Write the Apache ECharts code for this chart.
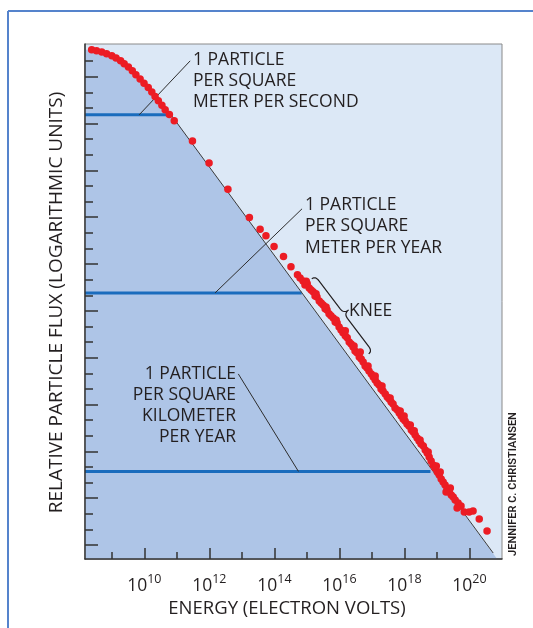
<!DOCTYPE html>
<html><head><meta charset="utf-8">
<script src="https://cdn.jsdelivr.net/npm/echarts@6/dist/echarts.min.js"></script>
<style>html,body{margin:0;padding:0;background:#fff;}#c{width:533px;height:628px;}</style>
</head><body><div id="c"></div>
<script>
// ---- axis ranges / ticks (x: log10 energy in eV, y: relative log flux units)
const energyMin = 8.175, energyMax = 21;
const fluxMin = -0.9, fluxMax = 32.1;
const xTickMajor = [10, 12, 14, 16, 18, 20];
const xTickMinor = [9, 11, 13, 15, 17, 19];
const yTickMajor = [0, 3, 6, 9, 12, 15, 18, 21, 24, 27, 30];
const yTickMinor = [1, 2, 4, 5, 7, 8, 10, 11, 13, 14, 16, 17, 19, 20, 22, 23, 25, 26, 28, 29, 31];

// ---- measured spectrum points [log10 E, log flux]
const lowEnergyDots = [
  [8.38,31.73],[8.53,31.66],[8.69,31.58],[8.84,31.47],[9.00,31.34],[9.13,31.20],[9.27,31.02],
  [9.38,30.83],[9.51,30.62],[9.63,30.38],[9.74,30.13],[9.87,29.85],[9.99,29.59],[10.12,29.31],
  [10.23,29.02],[10.33,28.73],[10.43,28.46],[10.54,28.18],[10.64,27.88],[10.77,27.59],[10.92,27.18],
  [11.48,25.88],[11.99,24.47],[12.57,22.80],[13.23,20.98],[13.56,20.23],[13.74,19.82],[13.99,19.12],
  [14.28,18.48],[14.51,17.82],[14.71,17.31]
];
const kneeDots = [
  [14.79,17.11],[14.88,16.92],[14.94,16.66],[15.01,16.73],[15.07,16.47],[15.13,16.34],[15.19,16.22],
  [15.25,15.96],[15.31,15.89],[15.38,15.64],[15.44,15.51],[15.50,15.38],[15.56,15.13],[15.62,15.06],
  [15.68,14.81],[15.74,14.68],[15.81,14.55],[15.87,14.29],[15.93,14.23],[15.99,13.97],[16.05,13.78],
  [16.11,13.59],[16.18,13.40],[16.24,13.27],[16.30,13.01],[16.36,12.88],[16.42,12.69],[16.48,12.43],
  [16.54,12.31],[16.61,12.05],[16.67,11.92],[16.73,11.73],[16.79,11.47],[16.85,11.34],[16.91,11.15],
  [16.98,10.96],[17.04,10.77],[17.10,10.57],[17.16,10.38],[17.22,10.25],[17.28,10.00],[17.34,9.87],
  [17.41,9.68],[17.47,9.48],[17.53,9.36],[17.59,9.16],[17.65,9.04],[17.71,8.78],[17.78,8.65],
  [17.84,8.46],[17.90,8.27],[17.96,8.07],[18.02,7.95],[18.08,7.75],[18.14,7.63],[18.21,7.37],
  [18.27,7.24],[18.33,7.05],[18.39,6.86],[18.45,6.66],[18.51,6.47],[18.58,6.34],[18.64,6.09],
  [18.70,5.89],[18.76,5.64],[18.82,5.38],[18.88,5.13],[18.94,4.93],[19.01,4.68],[19.07,4.48],
  [19.13,4.23],[19.19,4.04],[19.25,3.84],[19.31,3.59],[19.38,3.39],[19.44,3.20],[19.50,3.07],[19.56,2.88],
  [16.18,13.72],[16.64,12.37],[17.10,10.83],[17.56,9.42],[17.87,8.59],[18.18,7.69],[18.48,6.73],
  [19.10,4.68],[19.41,3.65],[19.28,3.39],
  [14.98,16.89],[15.28,16.09],[15.59,15.25],[15.90,14.42],[16.45,12.75],[16.88,11.47],[17.31,10.19],
  [17.99,8.27],[18.30,7.31],[18.73,5.96],[18.98,5.06]
];
const ankleDots = [
  [19.65,2.69],[19.74,2.50],[19.62,2.37],[19.84,2.11],[19.99,2.11],[20.11,2.18],[20.30,1.66],[20.54,0.89]
];

// ---- reference power law and rate levels
const powerLawLine = [[10.73,27.82],[20.73,-0.52]];
const shadedEdgeEnd = [20.85,-0.9];
const rateLevels = [27.56, 16.15, 4.71];
const rateLevelEnds = [10.78, 14.84, 18.8];
const leaderSecond = [[11.41,31.02],[9.84,27.56]];
const leaderYear = [[14.85,21.54],[12.175,16.15]];
const leaderKm = [[12.89,10.96],[14.74,4.71]];
const kneeStart = [15.26,17.23];
const kneeEnd = [17.01,12.42];

const TXT = '#231f20';
const FONT = '"Open Sans", "Noto Sans", sans-serif';

const shadedBoundary = [[energyMin, lowEnergyDots[0][1]]]
  .concat(lowEnergyDots.slice(0, 19))
  .concat([powerLawLine[0], shadedEdgeEnd]);

function lineSeries(data, color, width, z) {
  return { type: 'line', data: data, symbol: 'none', silent: true, z: z,
    lineStyle: { color: color, width: width }, animation: false };
}

const series = [
  { type: 'line', data: shadedBoundary, symbol: 'none', silent: true, z: 1,
    lineStyle: { width: 0 }, areaStyle: { color: '#aec5e7', opacity: 1, origin: 'start' } },
  ...rateLevels.map((lv, i) => lineSeries([[energyMin, lv], [rateLevelEnds[i], lv]], '#1a6cbd', 3, 2)),
  lineSeries(powerLawLine, '#3b3b3b', 1, 3),
  lineSeries(leaderSecond, '#2d2d2d', 1, 3),
  lineSeries(leaderYear, '#2d2d2d', 1, 3),
  lineSeries(leaderKm, '#2d2d2d', 1, 3),
  { type: 'scatter', data: lowEnergyDots.concat(kneeDots, ankleDots), symbolSize: 7.5, z: 4,
    itemStyle: { color: '#ec1c24', opacity: 1 }, silent: true }
];

const axisCol = '#333';
const option = {
  animation: false,
  grid: { left: 85, top: 44, width: 417, height: 515, show: true, backgroundColor: '#dce8f6',
    borderColor: '#8a8a8a', borderWidth: 1, containLabel: false, outerBoundsMode: 'none' },
  xAxis: [
    { type: 'value', min: energyMin, max: energyMax, position: 'bottom', z: 10,
      axisLine: { show: true, onZero: false, lineStyle: { color: axisCol, width: 1.5 } },
      axisTick: { show: true, inside: true, length: 11, customValues: xTickMajor, lineStyle: { color: axisCol, width: 1.5 } },
      axisLabel: { show: true, customValues: xTickMajor, margin: 14, color: TXT,
        formatter: v => '{b|10}{s|' + v + '}',
        rich: { b: { fontSize: 17.5, fontFamily: FONT, color: TXT, lineHeight: 22, verticalAlign: 'bottom' },
                s: { fontSize: 12.5, fontFamily: FONT, color: TXT, lineHeight: 12, verticalAlign: 'top' } } },
      splitLine: { show: false } },
    { type: 'value', min: energyMin, max: energyMax, position: 'bottom', z: 10,
      axisLine: { show: false, onZero: false },
      axisTick: { show: true, inside: true, length: 7, customValues: xTickMinor, lineStyle: { color: axisCol, width: 1.5 } },
      axisLabel: { show: false }, splitLine: { show: false } }
  ],
  yAxis: [
    { type: 'value', min: fluxMin, max: fluxMax, position: 'left', z: 10,
      axisLine: { show: true, onZero: false, lineStyle: { color: axisCol, width: 1.5 } },
      axisTick: { show: true, inside: true, length: 13, customValues: yTickMajor, lineStyle: { color: axisCol, width: 1.5 } },
      axisLabel: { show: false }, splitLine: { show: false } },
    { type: 'value', min: fluxMin, max: fluxMax, position: 'left', z: 10,
      axisLine: { show: false, onZero: false },
      axisTick: { show: true, inside: true, length: 8, customValues: yTickMinor, lineStyle: { color: axisCol, width: 1.5 } },
      axisLabel: { show: false }, splitLine: { show: false } }
  ],
  series: series
};

const chart = echarts.init(document.getElementById('c'), null, { renderer: 'canvas' });
chart.setOption(option);

// brace for the knee, positioned via the axes
const A = chart.convertToPixel({ gridIndex: 0 }, kneeStart);
const B = chart.convertToPixel({ gridIndex: 0 }, kneeEnd);
const dx = B[0] - A[0], dy = B[1] - A[1];
const L = Math.hypot(dx, dy);
const ux = dx / L, uy = dy / L, nx = uy, ny = -ux;
const P = (s, t) => [A[0] + ux * s + nx * t, A[1] + uy * s + ny * t];
const h = 6, he = 4.5;
function quad(p0, c, p1, out) {
  for (let i = 1; i <= 8; i++) {
    const t = i / 8, a = (1 - t) * (1 - t), b = 2 * (1 - t) * t, d = t * t;
    out.push([a * p0[0] + b * c[0] + d * p1[0], a * p0[1] + b * c[1] + d * p1[1]]);
  }
}
const bracePts = [P(0, -he)];
quad(P(0, -he), P(0, 0), P(h, 0), bracePts);
bracePts.push(P(L / 2 - h, 0));
quad(P(L / 2 - h, 0), P(L / 2, 0), P(L / 2, h), bracePts);
quad(P(L / 2, h), P(L / 2, 0), P(L / 2 + h, 0), bracePts);
bracePts.push(P(L - h, 0));
quad(P(L - h, 0), P(L, 0), P(L, -he), bracePts);

function txt(x, y, text, opts) {
  return { type: 'text', x: x, y: y, z: 10, silent: true,
    style: Object.assign({ text: text, fill: TXT, font: '17.5px ' + FONT, lineHeight: 21,
      verticalAlign: 'top', align: 'left' }, opts || {}) };
}

chart.setOption({
  graphic: [
    { type: 'line', shape: { x1: 8, y1: 11, x2: 8, y2: 628 }, style: { stroke: '#5583cc', lineWidth: 2 }, silent: true },
    { type: 'line', shape: { x1: 8, y1: 11, x2: 533, y2: 11 }, style: { stroke: '#5583cc', lineWidth: 2 }, silent: true },
    { type: 'polyline', shape: { points: bracePts }, style: { stroke: TXT, lineWidth: 1.2, fill: null }, z: 10, silent: true },
    txt(193, 50, '1 PARTICLE\nPER SQUARE\nMETER PER SECOND'),
    txt(305, 194, '1 PARTICLE\nPER SQUARE\nMETER PER YEAR', { lineHeight: 21.5 }),
    txt(236, 364, '1 PARTICLE\nPER SQUARE\nKILOMETER\nPER YEAR', { align: 'right', lineHeight: 20.8 }),
    txt(349, 311, 'KNEE', { verticalAlign: 'middle' }),
    txt(287, 608.5, 'ENERGY (ELECTRON VOLTS)', { font: '18.5px ' + FONT, align: 'center', verticalAlign: 'middle' }),
    { type: 'text', x: 57, y: 302.5, rotation: Math.PI / 2, z: 10, silent: true,
      style: { text: 'RELATIVE PARTICLE FLUX (LOGARITHMIC UNITS)', fill: TXT, font: '19px ' + FONT,
        align: 'center', verticalAlign: 'middle' } },
    { type: 'text', x: 513, y: 484, rotation: Math.PI / 2, z: 10, silent: true,
      style: { text: 'JENNIFER C. CHRISTIANSEN', fill: TXT, font: '600 11px Roboto, sans-serif',
        align: 'center', verticalAlign: 'middle' } }
  ]
});
</script></body></html>
